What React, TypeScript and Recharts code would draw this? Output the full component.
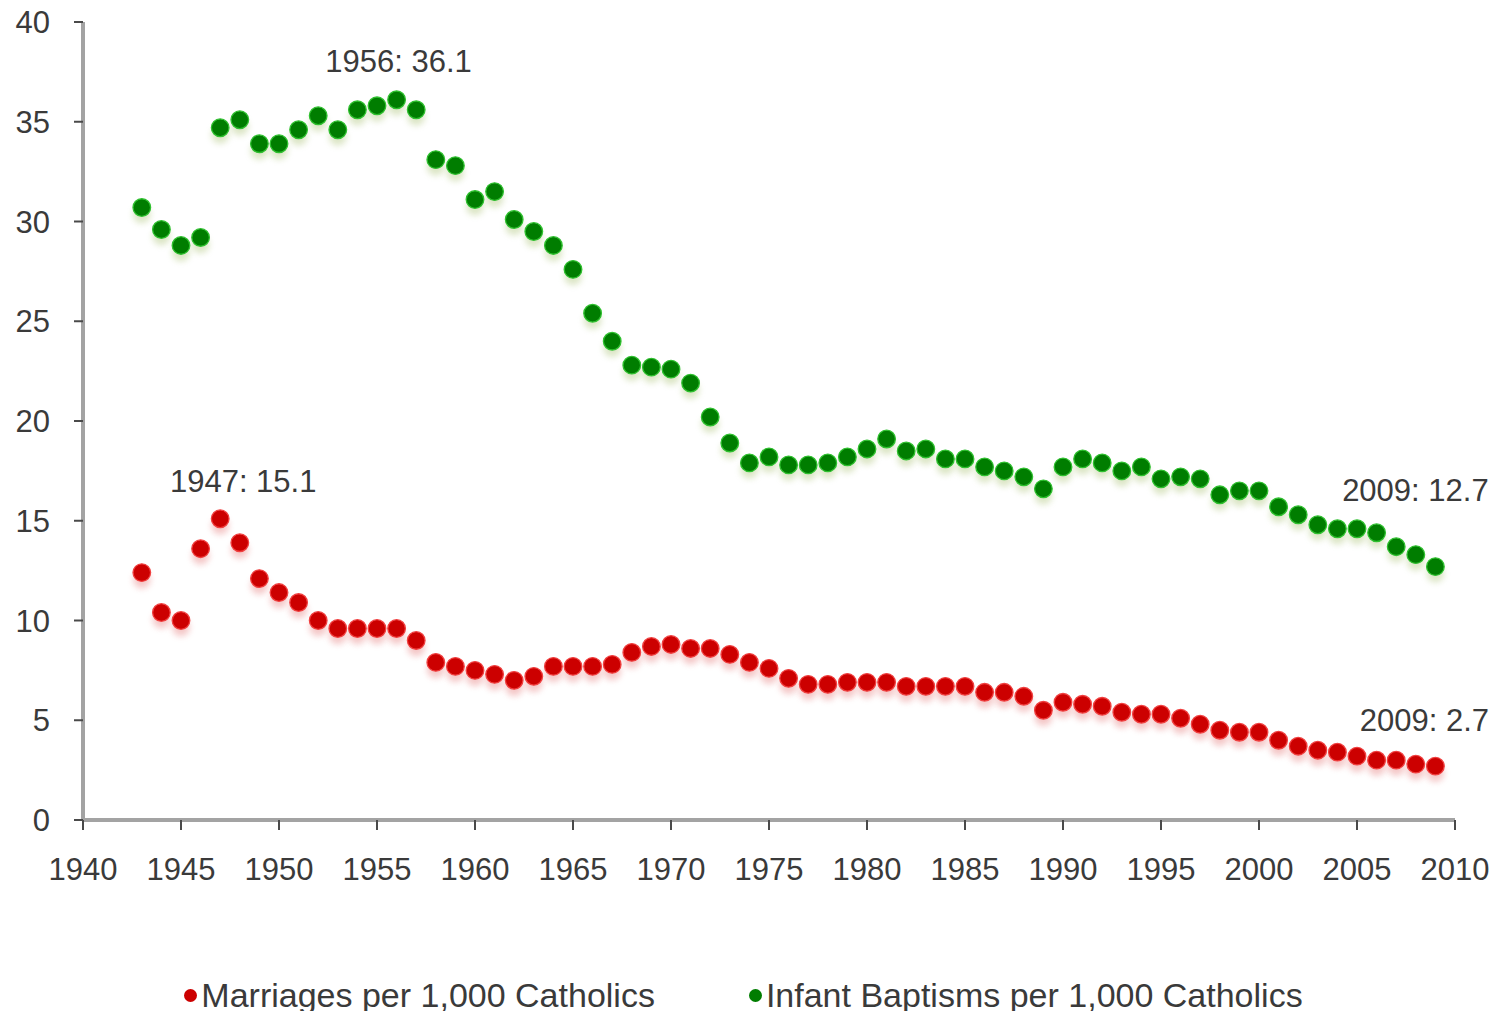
import React from 'react';
import { ScatterChart, Scatter, XAxis, YAxis, ReferenceDot, Legend } from 'recharts';

const years = [
  1943, 1944, 1945, 1946, 1947, 1948, 1949, 1950, 1951, 1952,
  1953, 1954, 1955, 1956, 1957, 1958, 1959, 1960, 1961, 1962,
  1963, 1964, 1965, 1966, 1967, 1968, 1969, 1970, 1971, 1972,
  1973, 1974, 1975, 1976, 1977, 1978, 1979, 1980, 1981, 1982,
  1983, 1984, 1985, 1986, 1987, 1988, 1989, 1990, 1991, 1992,
  1993, 1994, 1995, 1996, 1997, 1998, 1999, 2000, 2001, 2002,
  2003, 2004, 2005, 2006, 2007, 2008, 2009,
];

const marriages = [
  12.4, 10.4, 10.0, 13.6, 15.1, 13.9, 12.1, 11.4, 10.9, 10.0,
  9.6, 9.6, 9.6, 9.6, 9.0, 7.9, 7.7, 7.5, 7.3, 7.0,
  7.2, 7.7, 7.7, 7.7, 7.8, 8.4, 8.7, 8.8, 8.6, 8.6,
  8.3, 7.9, 7.6, 7.1, 6.8, 6.8, 6.9, 6.9, 6.9, 6.7,
  6.7, 6.7, 6.7, 6.4, 6.4, 6.2, 5.5, 5.9, 5.8, 5.7,
  5.4, 5.3, 5.3, 5.1, 4.8, 4.5, 4.4, 4.4, 4.0, 3.7,
  3.5, 3.4, 3.2, 3.0, 3.0, 2.8, 2.7,
];

const baptisms = [
  30.7, 29.6, 28.8, 29.2, 34.7, 35.1, 33.9, 33.9, 34.6, 35.3,
  34.6, 35.6, 35.8, 36.1, 35.6, 33.1, 32.8, 31.1, 31.5, 30.1,
  29.5, 28.8, 27.6, 25.4, 24.0, 22.8, 22.7, 22.6, 21.9, 20.2,
  18.9, 17.9, 18.2, 17.8, 17.8, 17.9, 18.2, 18.6, 19.1, 18.5,
  18.6, 18.1, 18.1, 17.7, 17.5, 17.2, 16.6, 17.7, 18.1, 17.9,
  17.5, 17.7, 17.1, 17.2, 17.1, 16.3, 16.5, 16.5, 15.7, 15.3,
  14.8, 14.6, 14.6, 14.4, 13.7, 13.3, 12.7,
];

const xTicks = [1940, 1945, 1950, 1955, 1960, 1965, 1970, 1975, 1980, 1985, 1990, 1995, 2000, 2005, 2010];
const yTicks = [0, 5, 10, 15, 20, 25, 30, 35, 40];

const seriesNames = ['Marriages per 1,000 Catholics', 'Infant Baptisms per 1,000 Catholics'];

// highlighted values: [year, value] for each callout
const callouts: [number, number][] = [
  [1956, 36.1],
  [1947, 15.1],
  [2009, 12.7],
  [2009, 2.7],
];

const FONT = '"Liberation Sans", Arial, sans-serif';
const TEXT = '#3a3a3a';
const RED = '#cc0000';
const GREEN = '#007d00';

// offsets (px) of each callout text from its point
const calloutOffsets = [
  { dx: 2, dy: -38 },
  { dx: 23, dy: -37 },
  { dx: -20, dy: -76 },
  { dx: -11, dy: -46 },
];

const marriageData = years.map((year, i) => ({ year, value: marriages[i] }));
const baptismData = years.map((year, i) => ({ year, value: baptisms[i] }));

const R = 8.8;

const shadowDot = (color: string) => (props: any) => {
  const { cx, cy } = props;
  if (cx == null || cy == null) return <g />;
  return <circle cx={cx} cy={cy + 7} r={R} fill={color} opacity={0.35} filter="url(#dotShadow)" />;
};

const mainDot = (fill: string, rim: string) => (props: any) => {
  const { cx, cy } = props;
  if (cx == null || cy == null) return <g />;
  return <circle cx={cx} cy={cy} r={R} fill={fill} stroke={rim} strokeWidth={1.3} />;
};

const CalloutText = (text: string, dx: number, dy: number) => (props: any) => {
  const { cx, cy } = props;
  if (cx == null || cy == null) return <g />;
  return (
    <text
      x={cx + dx}
      y={cy + dy}
      textAnchor="middle"
      dominantBaseline="central"
      fontFamily={FONT}
      fontSize={31}
      fill={TEXT}
    >
      {text}
    </text>
  );
};

const ChartLegend = () => (
  <div
    style={{
      display: 'flex',
      justifyContent: 'center',
      gap: 94,
      paddingRight: 20,
      fontFamily: FONT,
      fontSize: 34,
      color: TEXT,
      lineHeight: '38px',
      whiteSpace: 'nowrap',
    }}
  >
    {seriesNames.map((name, i) => (
      <div key={name} style={{ display: 'flex', alignItems: 'center' }}>
        <span
          style={{
            display: 'inline-block',
            width: 13,
            height: 13,
            borderRadius: '50%',
            background: i === 0 ? RED : GREEN,
            marginRight: 4,
          }}
        />
        {name}
      </div>
    ))}
  </div>
);

export default function App() {
  return (
    <div style={{ width: 1507, height: 1011, margin: '-8px 0 0 -8px', fontFamily: FONT, background: '#fff' }}>
      <ScatterChart width={1507} height={1011} margin={{ top: 22, right: 52, left: 23, bottom: 131 }}>
        <defs>
          <filter id="dotShadow" x="-100%" y="-100%" width="300%" height="300%">
            <feGaussianBlur stdDeviation="3" />
          </filter>
        </defs>
        <XAxis
          type="number"
          dataKey="year"
          domain={[1940, 2010]}
          ticks={xTicks}
          interval={0}
          height={60}
          axisLine={{ stroke: '#a3a3a3', strokeWidth: 4 }}
          tickLine={{ stroke: '#4a4a4a', strokeWidth: 2 }}
          tickSize={10}
          tickMargin={28}
          tick={{ fill: TEXT, fontSize: 31, fontFamily: FONT }}
        />
        <YAxis
          type="number"
          dataKey="value"
          domain={[0, 40]}
          ticks={yTicks}
          interval={0}
          width={60}
          axisLine={{ stroke: '#a3a3a3', strokeWidth: 4 }}
          tickLine={{ stroke: '#4a4a4a', strokeWidth: 2 }}
          tickSize={9}
          tickMargin={24}
          tick={{ fill: TEXT, fontSize: 31, fontFamily: FONT }}
        />
        <Scatter data={marriageData} shape={shadowDot('#e06060')} isAnimationActive={false} legendType="none" />
        <Scatter data={baptismData} shape={shadowDot('#9ab65a')} isAnimationActive={false} legendType="none" />
        <Scatter name={seriesNames[0]} data={marriageData} shape={mainDot(RED, '#f04040')} isAnimationActive={false} />
        <Scatter name={seriesNames[1]} data={baptismData} shape={mainDot(GREEN, '#2fc02f')} isAnimationActive={false} />
        {callouts.map(([year, value], i) => (
          <ReferenceDot
            key={`${year}-${value}`}
            x={year}
            y={value}
            r={0}
            ifOverflow="visible"
            shape={CalloutText(`${year}: ${value}`, calloutOffsets[i].dx, calloutOffsets[i].dy)}
          />
        ))}
        <Legend
          layout="horizontal"
          verticalAlign="middle"
          align="center"
          wrapperStyle={{ top: 976, left: 0, width: 1507 }}
          content={() => <ChartLegend />}
        />
      </ScatterChart>
    </div>
  );
}
